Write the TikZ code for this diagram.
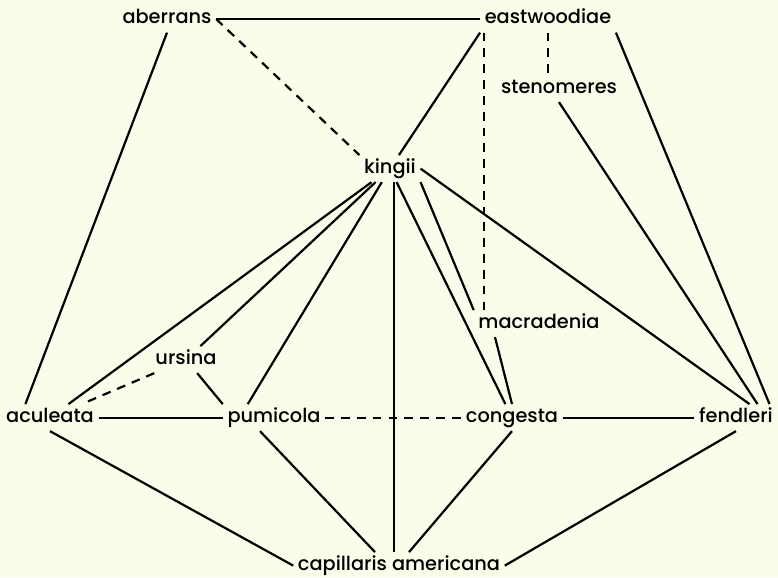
\documentclass[tikz,border=0pt]{standalone}
\usepackage{fontspec}
\setmainfont{Poppins}[UprightFont={* Medium}]
\usetikzlibrary{calc}
\definecolor{Paper}{RGB}{252,252,234}
\tikzset{
	taxon/.style={anchor=base,inner sep=2.5pt,text height=7.5pt,text depth=2.5pt,
		font=\fontsize{11}{13}\selectfont},
	link/.style={draw=black,line width=1.25pt},
	doubtful/.style={link,dash pattern=on 5pt off 4pt},
}

\begin{document}
\begin{tikzpicture}
	\fill[Paper] (0,0) rectangle (15.56,-11.54);
	\useasboundingbox (0,0) rectangle (15.56,-11.54);
	% taxa
	\node[taxon] (aberrans) at (3.34,-0.47) {aberrans};
	\node[taxon] (eastwoodiae) at (10.96,-0.47) {eastwoodiae};
	\node[taxon] (stenomeres) at (11.18,-1.86) {stenomeres};
	\node[taxon] (kingii) at (7.80,-3.46) {kingii};
	\node[taxon] (macradenia) at (10.78,-6.56) {macradenia};
	\node[taxon] (ursina) at (3.72,-7.28) {ursina};
	\node[taxon] (aculeata) at (1.00,-8.44) {aculeata};
	\node[taxon] (pumicola) at (5.48,-8.44) {pumicola};
	\node[taxon] (congesta) at (10.24,-8.44) {congesta};
	\node[taxon] (fendleri) at (14.72,-8.44) {fendleri};
	\node[taxon] (capillaris) at (7.98,-11.40) {capillaris americana};
	% solid links
	\foreach \x/\y in {aberrans.east/eastwoodiae.west,eastwoodiae.south west/kingii,
		kingii/aculeata,kingii/ursina,kingii/congesta,
		kingii.south east/macradenia.north west,ursina/pumicola.north west,
		aculeata.east/pumicola.west,congesta.east/fendleri.west,
		aculeata.south/capillaris.west,fendleri.south/capillaris.east}
	\draw[link] (\x)--(\y);
	\draw[link] ([xshift=0.08cm]kingii.south)--([xshift=0.08cm]kingii.south |- capillaris.north);
	\draw[link] (aberrans.south)--([xshift=0.48cm]aculeata.north west);
	\draw[link] (eastwoodiae.south east)--([xshift=-0.16cm]fendleri.north east);
	\draw[link] (stenomeres.south)--([xshift=-0.4cm]fendleri.north east);
	\draw[link] (kingii.east)--([xshift=-0.56cm]fendleri.north east);
	\draw[link] (kingii)--([xshift=0.5cm]pumicola.north west);
	\draw[link] ([xshift=-0.88cm]macradenia.south)--(congesta.north);
	\draw[link] ([xshift=-0.28cm]pumicola.south)--([xshift=-0.48cm]capillaris.north);
	\draw[link] (congesta.south)--([xshift=0.2cm]capillaris.north);
	% doubtful links
	\foreach \x/\y in {aberrans.east/kingii.north west,ursina/aculeata,pumicola.east/congesta.west}
	\draw[doubtful] (\x)--(\y);
	\draw[doubtful] (eastwoodiae.south)--(eastwoodiae.south |- stenomeres.north);
	\draw[doubtful] ([xshift=0.08cm]eastwoodiae.south west)--([xshift=0.08cm]eastwoodiae.south west |- macradenia.north);
\end{tikzpicture}
\end{document}
